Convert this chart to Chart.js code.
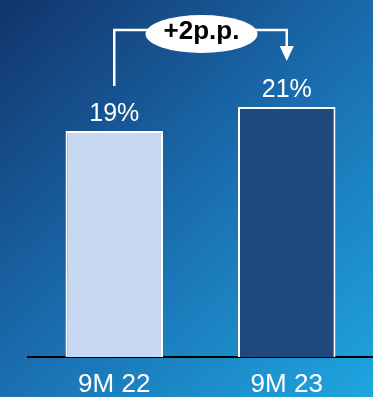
<!DOCTYPE html>
<html>
<head>
<meta charset="utf-8">
<script src="https://cdn.jsdelivr.net/npm/chart.js@4"></script>
<style>
  html, body { margin: 0; padding: 0; overflow: hidden; }
  #wrap { width: 373px; height: 397px; position: relative; }
</style>
</head>
<body>
<div id="wrap"><canvas id="chart"></canvas></div>
<script>
// Данные графика
const categories = ['9M 22', '9M 23'];
const values = [19, 21];
const valueLabels = ['19%', '21%'];
const deltaLabel = '+2p.p.';
const barColors = ['#c6d9f0', '#1f497d'];

const FONT = '"Liberation Sans", Arial, sans-serif';

// Фон с градиентом
const backgroundPlugin = {
  id: 'bg',
  beforeDraw(chart) {
    const ctx = chart.ctx;
    const g = ctx.createLinearGradient(0, 0, chart.width, chart.height);
    g.addColorStop(0, '#12346b');
    g.addColorStop(0.5, '#1a6cae');
    g.addColorStop(1, '#1fa6e0');
    ctx.save();
    ctx.fillStyle = g;
    ctx.fillRect(0, 0, chart.width, chart.height);
    ctx.restore();
  }
};

// Подписи значений и стрелка с разницей
const labelsPlugin = {
  id: 'labels',
  afterDatasetsDraw(chart) {
    const ctx = chart.ctx;
    const bars = chart.getDatasetMeta(0).data;
    ctx.save();
    ctx.fillStyle = '#ffffff';
    ctx.font = '25px ' + FONT;
    ctx.textAlign = 'center';
    ctx.textBaseline = 'alphabetic';
    bars.forEach((bar, i) => {
      ctx.fillText(valueLabels[i], bar.x, bar.y - 10);
    });

    const a = bars[0], b = bars[1];
    const lineY = 30;
    const cx = (a.x + b.x) / 2 + 1;
    const rx = 56, ry = 19;
    ctx.strokeStyle = '#ffffff';
    ctx.lineWidth = 2.5;
    ctx.beginPath();
    ctx.moveTo(a.x, a.y - 45);
    ctx.lineTo(a.x, lineY);
    ctx.lineTo(b.x, lineY);
    ctx.lineTo(b.x, b.y - 58);
    ctx.stroke();
    // наконечник стрелки
    ctx.beginPath();
    ctx.moveTo(b.x - 7, b.y - 61);
    ctx.lineTo(b.x + 7, b.y - 61);
    ctx.lineTo(b.x, b.y - 46);
    ctx.closePath();
    ctx.fill();
    // овал с текстом
    ctx.beginPath();
    ctx.ellipse(cx, 34, rx, ry, 0, 0, Math.PI * 2);
    ctx.fill();
    ctx.fillStyle = '#000000';
    ctx.font = 'bold 26px ' + FONT;
    ctx.fillText(deltaLabel, cx, 39);
    ctx.restore();
  }
};

const ctx = document.getElementById('chart').getContext('2d');
new Chart(ctx, {
  type: 'bar',
  data: {
    labels: categories,
    datasets: [{
      data: values,
      backgroundColor: barColors,
      borderColor: '#ffffff',
      borderWidth: 2,
      borderSkipped: 'bottom',
      barPercentage: 0.565,
      categoryPercentage: 1
    }]
  },
  options: {
    responsive: true,
    maintainAspectRatio: false,
    animation: false,
    layout: { padding: { left: 28, right: 0, top: 0, bottom: 0 } },
    plugins: { legend: { display: false }, tooltip: { enabled: false } },
    scales: {
      x: {
        grid: { display: false, drawTicks: false },
        border: { display: true, color: '#000000', width: 2 },
        ticks: {
          color: '#ffffff',
          padding: 12,
          font: { family: FONT, size: 26 }
        },
        afterFit(scale) { scale.height = 40; }
      },
      y: {
        display: false,
        min: 0,
        max: 30
      }
    }
  },
  plugins: [backgroundPlugin, labelsPlugin]
});
</script>
</body>
</html>
